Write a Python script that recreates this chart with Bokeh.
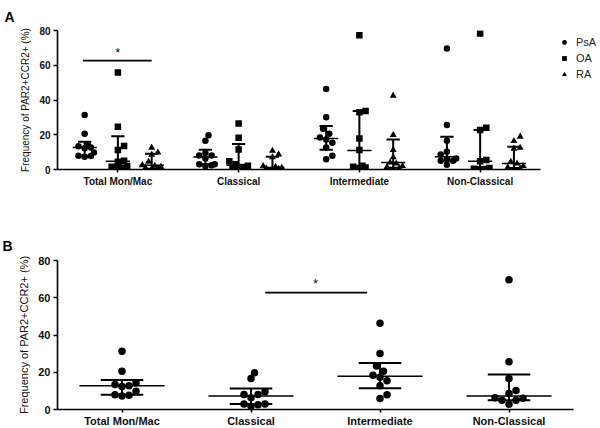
import numpy as np
from bokeh.plotting import figure
from bokeh.layouts import column
from bokeh.models import Range1d, Label, Legend, LegendItem, FixedTicker
from bokeh.embed import file_html
from bokeh.resources import INLINE

categories = ["Total Mon/Mac", "Classical", "Intermediate", "Non-Classical"]
series = ["PsA", "OA", "RA"]

psa_total = [31.3, 20.6, 14.3, 13.4, 12.7, 12.3, 9.8, 7.9, 7.7, 7.3]
psa_classical = [19.7, 16.6, 9.5, 8.0, 8.0, 6.3, 3.0, 3.0, 2.5, 1.8]
psa_intermediate = [46.3, 30.1, 23.4, 20.6, 18.4, 17.3, 15.4, 12.7, 7.9, 5.9]
psa_nonclassical = [69.6, 25.6, 16.6, 10.2, 8.6, 6.3, 6.1, 5.0, 5.0, 2.8]

oa_total = [55.8, 24.6, 13.5, 11.2, 5.0, 4.5, 2.0, 1.6, 1.2, 0.8]
oa_classical = [26.5, 18.3, 11.5, 4.8, 3.0, 2.2, 1.5, 1.0, 0.6, 0.3]
oa_intermediate = [77.3, 33.7, 32.9, 17.9, 11.2, 2.1, 1.6, 1.2, 0.8]
oa_nonclassical = [78.3, 24.1, 22.7, 5.4, 4.8, 0.8, 0.5, 0.3, 0.2]

ra_total = [12.5, 9.8, 8.5, 4.5, 2.5, 2.2, 1.5, 1.0, 0.5, 0.2]
ra_classical = [10.8, 8.7, 7.0, 2.0, 1.5, 1.0, 0.6, 0.4, 0.2]
ra_intermediate = [42.5, 19.8, 11.2, 7.0, 4.0, 3.5, 2.0, 1.5, 0.8, 0.3]
ra_nonclassical = [18.9, 16.4, 12.5, 12.0, 4.5, 3.5, 2.0, 1.2, 0.5, 0.3]

# median, lower quartile, upper quartile per category
psa_median = [12.7, 7.2, 17.9, 7.3]
psa_low = [7.9, 3.0, 11.4, 5.0]
psa_high = [15.9, 11.3, 25.0, 18.8]
oa_median = [4.8, 2.5, 11.0, 4.8]
oa_low = [1.5, 0.6, 1.2, 0.3]
oa_high = [19.1, 14.7, 33.7, 22.7]
ra_median = [2.4, 1.2, 4.0, 3.5]
ra_low = [0.5, 0.4, 1.0, 0.8]
ra_high = [9.0, 7.3, 17.3, 13.1]

sig_a = (0, 2, 62.7)   # Total Mon/Mac: PsA vs RA
sig_b = (1, 2, 62.8)   # Classical vs Intermediate

y_ticks = [0, 20, 40, 60, 80]

FONT = "Liberation Sans"

groups = {
    "PsA": [psa_total, psa_classical, psa_intermediate, psa_nonclassical],
    "OA": [oa_total, oa_classical, oa_intermediate, oa_nonclassical],
    "RA": [ra_total, ra_classical, ra_intermediate, ra_nonclassical],
}
stats = {
    "PsA": (psa_median, psa_low, psa_high),
    "OA": (oa_median, oa_low, oa_high),
    "RA": (ra_median, ra_low, ra_high),
}
markers = {"PsA": "circle", "OA": "square", "RA": "triangle"}


def swarm(vals, py, px, d, maxoff):
    vals = np.asarray(vals, dtype=float)
    order = np.argsort(vals)
    placed = []
    offs = np.zeros(len(vals))
    for i in order:
        y = vals[i] * py
        cands = [0.0]
        k = 1
        while k * d * 0.5 <= maxoff:
            cands += [k * d * 0.5, -k * d * 0.5]
            k += 1
        best, best_fallback, bestd = None, 0.0, -1.0
        for c in cands:
            mind = min([np.hypot(c - qx, y - qy) for qx, qy in placed] + [1e9])
            if mind >= d * 0.95:
                best = c
                break
            if mind > bestd:
                bestd = mind
                best_fallback = c
        if best is None:
            best = best_fallback
        placed.append((best, y))
        offs[i] = best
    return offs / px


def style_axes(p, fs_tick, fs_lab, standoff):
    p.xaxis.ticker = FixedTicker(ticks=[i + 0.5 for i in range(len(categories))])
    p.xaxis.major_label_overrides = {i + 0.5: c for i, c in enumerate(categories)}
    p.yaxis.ticker = FixedTicker(ticks=y_ticks)
    p.yaxis.minor_tick_line_color = None
    p.xaxis.minor_tick_line_color = None
    for ax in (p.xaxis, p.yaxis):
        ax.axis_line_width = 1.6
        ax.axis_line_color = "black"
        ax.major_tick_line_color = "black"
        ax.major_tick_line_width = 1.6
        ax.major_tick_out = 4
        ax.major_tick_in = 0
        ax.major_label_text_font = FONT
        ax.major_label_text_font_style = "bold"
        ax.major_label_text_font_size = fs_tick
        ax.major_label_text_color = "#111111"
        ax.major_label_standoff = 3
    p.xaxis.major_tick_out = 3
    p.xaxis.major_label_standoff = standoff
    p.yaxis.axis_label = "Frequency of PAR2+CCR2+ (%)"
    p.yaxis.axis_label_text_font = FONT
    p.yaxis.axis_label_text_font_style = "normal"
    p.yaxis.axis_label_text_font_size = fs_lab
    p.yaxis.axis_label_text_color = "#111111"
    p.yaxis.axis_label_standoff = 5
    p.xgrid.grid_line_color = None
    p.ygrid.grid_line_color = None
    p.outline_line_color = None


def panel_title(p, letter, offset, standoff):
    p.title.text = letter
    p.title.align = "left"
    p.title.offset = offset
    p.title.standoff = standoff
    p.title.text_font = FONT
    p.title.text_font_style = "bold"
    p.title.text_font_size = "14px"
    p.title.text_color = "black"


# ---------------- Panel A ----------------
pA = figure(frame_width=483, frame_height=139, output_backend="svg", toolbar_location=None,
            x_range=Range1d(0, 4), y_range=Range1d(0, 80),
            min_border_left=55, min_border_right=62, min_border_top=29,
            min_border_bottom=26)
style_axes(pA, "10px", "10px", 3)
panel_title(pA, "A", -53, 12)

dx = {"PsA": -0.275, "OA": 0.0, "RA": 0.28}
pyA, pxA = 139.0 / 80, 483.0 / 4
renderers = {}
for s in series:
    xs, ys = [], []
    for ci, vals in enumerate(groups[s]):
        offs = swarm(vals, pyA, pxA, 6.2, 12)
        xs += list(ci + 0.5 + dx[s] + offs)
        ys += list(vals)
    renderers[s] = pA.scatter(xs, ys, marker=markers[s], size=6.5 if s != "RA" else 7,
                              color="black", line_width=0)
    med, lo, hi = stats[s]
    cx = np.array([ci + 0.5 + dx[s] for ci in range(4)])
    pA.segment(cx, lo, cx, hi, line_color="black", line_width=2)
    pA.segment(cx - 0.055, hi, cx + 0.055, hi, line_color="black", line_width=2)
    pA.segment(cx - 0.055, lo, cx + 0.055, lo, line_color="black", line_width=2)
    pA.segment(cx - 0.1, med, cx + 0.1, med, line_color="black", line_width=1.5)

ca, cb, yv = sig_a
pA.segment([ca + 0.5 - 0.29], [yv], [ca + 0.5 + 0.28], [yv], line_color="black", line_width=1.8)
pA.add_layout(Label(x=ca + 0.5, y=yv, text="*", text_align="center", text_baseline="bottom",
                    y_offset=1, text_font=FONT, text_font_size="12px", text_color="black"))

legend = Legend(items=[LegendItem(label=s, renderers=[renderers[s]]) for s in series],
                location=(18, 89), orientation="vertical",
                glyph_width=12, glyph_height=12, label_standoff=6, spacing=4,
                padding=0, margin=0, border_line_color=None, background_fill_alpha=0,
                label_text_font=FONT, label_text_font_size="11px", label_text_color="#222222")
pA.add_layout(legend, "right")

# ---------------- Panel B ----------------
pB = figure(frame_width=516, frame_height=149, output_backend="svg", toolbar_location=None,
            x_range=Range1d(0, 4), y_range=Range1d(0, 80),
            min_border_left=57, min_border_right=27, min_border_top=65,
            min_border_bottom=20)
style_axes(pB, "11px", "11px", 2)
panel_title(pB, "B", -55, 14)
pyB, pxB = 149.0 / 80, 516.0 / 4
xs, ys = [], []
for ci, vals in enumerate(groups["PsA"]):
    offs = swarm(vals, pyB, pxB, 7.0, 20)
    xs += list(ci + 0.5 + offs)
    ys += list(vals)
pB.scatter(xs, ys, marker="circle", size=7.5, color="black", line_width=0)
med, lo, hi = stats["PsA"]
cx = np.array([ci + 0.5 for ci in range(4)])
pB.segment(cx, lo, cx, hi, line_color="black", line_width=2)
pB.segment(cx - 0.165, hi, cx + 0.165, hi, line_color="black", line_width=2)
pB.segment(cx - 0.165, lo, cx + 0.165, lo, line_color="black", line_width=2)
pB.segment(cx - 0.33, med, cx + 0.33, med, line_color="black", line_width=1.5)

c1, c2, yv = sig_b
pB.segment([c1 + 0.5 + 0.11], [yv], [c2 + 0.5 - 0.1], [yv], line_color="black", line_width=1.8)
pB.add_layout(Label(x=(c1 + c2) / 2 + 0.5, y=yv, text="*", text_align="center",
                    text_baseline="bottom", y_offset=2, text_font=FONT, text_font_size="12px",
                    text_color="black"))

layout = column(pA, pB, spacing=0)
open("out.html", "w").write(file_html(layout, INLINE))
